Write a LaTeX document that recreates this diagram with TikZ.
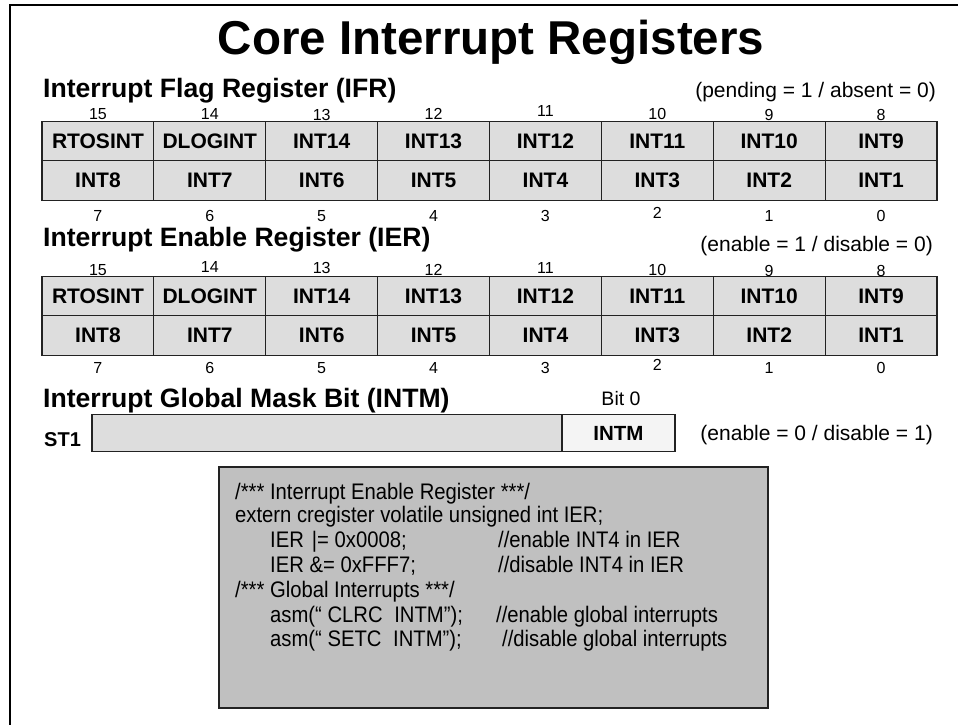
\documentclass[tikz,border=0pt]{standalone}
\usepackage{fontspec}
\setmainfont{Liberation Sans}
\newfontfamily\codefont[FakeStretch=0.9]{Liberation Sans}
\definecolor{cellgray}{HTML}{DDDDDD}
\definecolor{codegray}{HTML}{C0C0C0}
\definecolor{bitwhite}{HTML}{F4F4F4}
\definecolor{frameink}{HTML}{222222}
\newcommand{\fs}[1]{\fontsize{#1}{#1}\selectfont}
\tikzset{
  regcell/.style={draw=frameink, fill=cellgray, line width=1.2pt,
    minimum width=111.875pt, minimum height=39.5pt, inner sep=0pt,
    font=\bfseries\fs{21}},
  bitnum/.style={anchor=base, inner sep=0pt, font=\fs{16}},
  heading/.style={anchor=base west, inner sep=0pt, font=\bfseries\fs{26.6}},
  note/.style={anchor=base east, inner sep=0pt, font=\fs{21}},
  codeline/.style={anchor=base west, inner sep=0pt, font=\codefont\fs{22.5}},
}
\begin{document}
\begin{tikzpicture}[x=1pt, y=-1pt]
\useasboundingbox (0,0) rectangle (958,725);
\fill[white] (0,0) rectangle (958,725);
% slide frame (top and left edges)
\draw[line width=2pt] (10,725) -- (10,5) -- (958,5);

% title
\node[anchor=base, inner sep=0pt, font=\bfseries\fs{47.5}] (title) at (491,55) {Core Interrupt Registers};

% ---------- Interrupt Flag Register ----------
\node[heading] (ifrhead) at (43,97) {Interrupt Flag Register (IFR)};
\node[note] (ifrnote) at (936,97) {(pending = 1 / absent = 0)};
\foreach \lab [count=\i from 0] in {RTOSINT,DLOGINT,INT14,INT13,INT12,INT11,INT10,INT9} {
  \pgfmathtruncatemacro\b{15-\i}
  \node[regcell] (ifr\b) at ({42+111.875*(\i+0.5)},141) {\lab};
}
\foreach \lab [count=\i from 0] in {INT8,INT7,INT6,INT5,INT4,INT3,INT2,INT1} {
  \pgfmathtruncatemacro\b{7-\i}
  \node[regcell] (ifr\b) at ({42+111.875*(\i+0.5)},180.5) {\lab};
}
\foreach \n/\yy [count=\i from 0] in {15/119,14/119,13/120,12/119,11/116,10/119,9/120.5,8/120.5} {
  \node[bitnum] (ifrtop\n) at ({42+111.875*(\i+0.5)},\yy) {\n};
}
\foreach \n/\yy [count=\i from 0] in {7/221,6/221,5/221,4/221,3/221,2/218,1/221,0/221} {
  \node[bitnum] (ifrbot\n) at ({42+111.875*(\i+0.5)},\yy) {\n};
}

% ---------- Interrupt Enable Register ----------
\node[heading] (ierhead) at (43,246) {Interrupt Enable Register (IER)};
\node[note] (iernote) at (933,251) {(enable = 1 / disable = 0)};
\foreach \lab [count=\i from 0] in {RTOSINT,DLOGINT,INT14,INT13,INT12,INT11,INT10,INT9} {
  \pgfmathtruncatemacro\b{15-\i}
  \node[regcell] (ier\b) at ({42+111.875*(\i+0.5)},296) {\lab};
}
\foreach \lab [count=\i from 0] in {INT8,INT7,INT6,INT5,INT4,INT3,INT2,INT1} {
  \pgfmathtruncatemacro\b{7-\i}
  \node[regcell] (ier\b) at ({42+111.875*(\i+0.5)},335.5) {\lab};
}
\foreach \n/\yy [count=\i from 0] in {15/275,14/272,13/273,12/275,11/273,10/275,9/276,8/276} {
  \node[bitnum] (iertop\n) at ({42+111.875*(\i+0.5)},\yy) {\n};
}
\foreach \n/\yy [count=\i from 0] in {7/373,6/373,5/373,4/373,3/373,2/370,1/373,0/373} {
  \node[bitnum] (ierbot\n) at ({42+111.875*(\i+0.5)},\yy) {\n};
}

% ---------- Global mask bit ----------
\node[heading] (intmhead) at (43,407) {Interrupt Global Mask Bit (INTM)};
\node[anchor=base west, inner sep=0pt, font=\bfseries\fs{20}] (st1) at (44,446) {ST1};
\node[draw=frameink, fill=cellgray, line width=1.2pt, inner sep=0pt,
      minimum width=470pt, minimum height=37pt] (st1rest) at (327,433) {};
\node[draw=frameink, fill=bitwhite, line width=1.2pt, inner sep=0pt,
      minimum width=113pt, minimum height=37pt, font=\bfseries\fs{20.5}] (intm) at (618.5,433) {INTM};
\node[anchor=base, inner sep=0pt, font=\fs{19.5}] (bit0) at (621,405) {Bit 0};
\node[note] (intmnote) at (933,440) {(enable = 0 / disable = 1)};

% ---------- code example ----------
\node[draw=frameink, fill=codegray, line width=1.6pt, inner sep=0pt,
      minimum width=549pt, minimum height=241pt] (code) at (493.5,587.5) {};
\node[codeline] (c1) at (235,499) {/*** Interrupt Enable Register ***/};
\node[codeline] (c2) at (235,522) {extern cregister volatile unsigned int IER;};
\node[codeline] (c3) at (270,547) {IER\hspace{8pt}|= 0x0008;};
\node[codeline] (c3c) at (498,547) {//enable INT4 in IER};
\node[codeline] (c4) at (270,572.5) {IER \&= 0xFFF7;};
\node[codeline] (c4c) at (498,572.5) {//disable INT4 in IER};
\node[codeline] (c5) at (235,597) {/*** Global Interrupts ***/};
\node[codeline] (c6) at (270,622) {asm(“ CLRC\hspace{6pt} INTM”);};
\node[codeline] (c6c) at (496,622) {//enable global interrupts};
\node[codeline] (c7) at (270,646) {asm(“ SETC\hspace{6pt} INTM”);};
\node[codeline] (c7c) at (502,646) {//disable global interrupts};
\end{tikzpicture}
\end{document}
